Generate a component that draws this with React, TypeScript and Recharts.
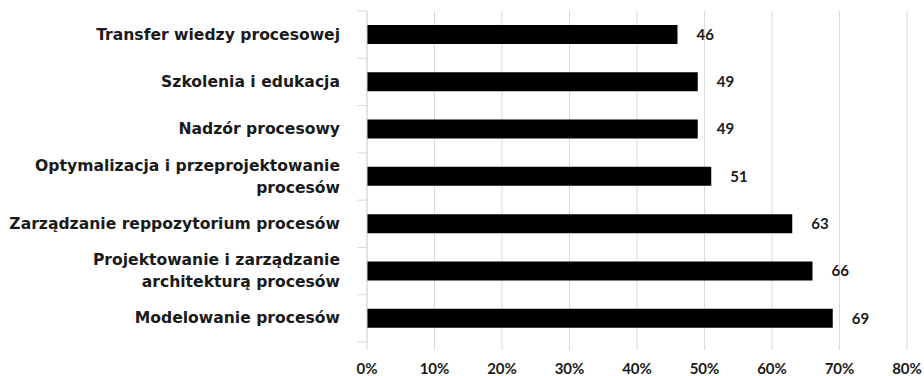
import React from 'react';
import { BarChart, Bar, XAxis, YAxis, CartesianGrid, LabelList } from 'recharts';

const categories = [
  'Transfer wiedzy procesowej',
  'Szkolenia i edukacja',
  'Nadzór procesowy',
  'Optymalizacja i przeprojektowanie\nprocesów',
  'Zarządzanie reppozytorium procesów',
  'Projektowanie i zarządzanie\narchitekturą procesów',
  'Modelowanie procesów',
];
const values = [46, 49, 49, 51, 63, 66, 69];
const xTicks = [0, 10, 20, 30, 40, 50, 60, 70, 80];

const data = categories.map((c, i) => ({ name: c, value: values[i] }));

const W = 924;
const H = 376;
const M = { top: 11, right: 17, bottom: 0, left: 0 };
const X_AXIS_H = 34;
const Y_AXIS_W = 367;
const BAND = (H - M.top - M.bottom - X_AXIS_H) / categories.length;
const GRID = '#d9d9d9';

const CatTick = (props: any) => {
  const { y, payload, index } = props;
  const lines = String(payload.value).split('\n');
  const lh = 22;
  const start = -((lines.length - 1) * lh) / 2;
  const ax = Y_AXIS_W;
  return (
    <g>
      <line x1={ax - 10} x2={ax} y1={y - BAND / 2} y2={y - BAND / 2} stroke={GRID} />
      {index === categories.length - 1 && (
        <line x1={ax - 10} x2={ax} y1={y + BAND / 2} y2={y + BAND / 2} stroke={GRID} />
      )}
      <text
        x={ax - 27}
        y={y}
        textAnchor="end"
        fontFamily="DejaVu Sans"
        fontWeight="bold"
        fontSize={15.6}
        fill="#1a1a1a"
      >
        {lines.map((l, i) => (
          <tspan key={i} x={ax - 27} dy={i === 0 ? start : lh} dominantBaseline="central">
            {l}
          </tspan>
        ))}
      </text>
    </g>
  );
};

export default function App() {
  return (
    <div style={{ position: 'absolute', left: 0, top: 0, background: '#fff' }}>
      <BarChart width={W} height={H} data={data} layout="vertical" margin={M}>
        <CartesianGrid horizontal={false} stroke={GRID} />
        <XAxis
          type="number"
          domain={[0, 80]}
          ticks={xTicks}
          tickFormatter={(v: number) => `${v}%`}
          height={X_AXIS_H}
          axisLine={false}
          tickLine={{ stroke: GRID }}
          tickSize={8}
          tickMargin={13}
          tick={{ fontFamily: 'Lato', fontWeight: 'bold', fontSize: 15, fill: '#1a1a1a' }}
          interval={0}
        />
        <YAxis
          type="category"
          dataKey="name"
          width={Y_AXIS_W}
          axisLine={{ stroke: GRID }}
          tickLine={false}
          tick={<CatTick />}
          interval={0}
        />
        <Bar dataKey="value" fill="#000" barSize={19} isAnimationActive={false}>
          <LabelList
            dataKey="value"
            position="right"
            offset={19}
            style={{ fontFamily: 'Lato', fontWeight: 'bold', fontSize: 15, fill: '#1a1a1a' }}
          />
        </Bar>
      </BarChart>
    </div>
  );
}
